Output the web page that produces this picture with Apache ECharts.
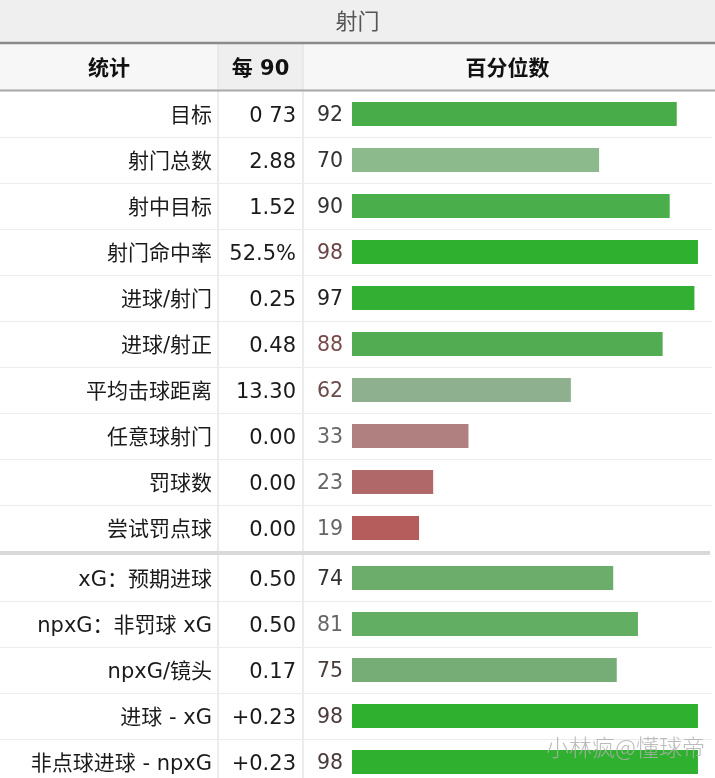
<!DOCTYPE html>
<html><head><meta charset="utf-8">
<script src="https://cdn.jsdelivr.net/npm/echarts@6/dist/echarts.min.js"></script>
<style>html,body{margin:0;padding:0;background:#fff}#c{width:715px;height:778px}</style>
</head><body><div id="c"></div>
<script>
// ---- data ----
const title = '射门';
const headers = ['统计', '每 90', '百分位数'];
const stats = ['目标', '射门总数', '射中目标', '射门命中率', '进球/射门', '进球/射正', '平均击球距离', '任意球射门', '罚球数', '尝试罚点球',
  'xG：预期进球', 'npxG：非罚球 xG', 'npxG/镜头', '进球 - xG', '非点球进球 - npxG'];
const per90 = ['0 73', '2.88', '1.52', '52.5%', '0.25', '0.48', '13.30', '0.00', '0.00', '0.00',
  '0.50', '0.50', '0.17', '+0.23', '+0.23'];
const percentiles = [92, 70, 90, 98, 97, 88, 62, 33, 23, 19, 74, 81, 75, 98, 98];
const sectionSizes = [10, 5];
const watermark = '小林疯@懂球帝';

// ---- styles ----
const barColors = ['#48ad48', '#8dba8d', '#4aae4a', '#2fb12f', '#33b033', '#52ad52', '#8fb08f', '#b08080', '#b06868', '#b55c5c',
  '#6cad6c', '#62ae62', '#76ad76', '#2fb12f', '#2fb12f'];
const pctTextColors = ['#333', '#333', '#333', '#6b4545', '#222', '#7a4a4a', '#6b4a4a', '#666', '#666', '#666',
  '#333', '#666', '#4a3a3a', '#4a3a3a', '#4a3a3a'];

const FONT = 'DejaVu Sans, "Noto Sans CJK SC", sans-serif';
const W = 715;
const colX = [0, 218, 303, 712];
const rowH = [46, 46];
const tops = [91, 555];
const barLeft = 352, barWidthPx = 353;

const chart = echarts.init(document.getElementById('c'), null, {renderer: 'canvas'});

const grids = [], xAxes = [], yAxes = [], series = [];
let start = 0;
sectionSizes.forEach((n, gi) => {
  const idx = Array.from({length: n}, (_, k) => start + k);
  grids.push({left: barLeft, top: tops[gi], width: barWidthPx, height: n * rowH[gi], outerBoundsMode: 'none', containLabel: false});
  xAxes.push({type: 'value', gridIndex: gi, min: 0, max: 100, show: false});
  const baseAxis = {
    type: 'category', gridIndex: gi, inverse: true, position: 'left',
    axisLine: {show: false}, axisTick: {show: false}, splitLine: {show: false}
  };
  const lab = {fontSize: 21, color: '#1a1a1a', fontFamily: FONT, verticalAlign: 'top', lineHeight: 6};
  yAxes.push(Object.assign({}, baseAxis, {
    data: idx.map(i => stats[i]),
    axisLabel: Object.assign({margin: 140}, lab)
  }));
  yAxes.push(Object.assign({}, baseAxis, {
    data: idx.map(i => per90[i]),
    axisLabel: Object.assign({margin: 56}, lab)
  }));
  series.push({
    type: 'bar', xAxisIndex: gi, yAxisIndex: gi * 2, barWidth: 24, silent: true,
    data: idx.map(i => ({
      value: percentiles[i],
      itemStyle: {color: barColors[i]},
      label: {color: pctTextColors[i]}
    })),
    label: {show: true, position: 'left', distance: 9, fontSize: 20.5, fontFamily: FONT, formatter: '{c}', offset: [0, 2]}
  });
  start += n;
});

// table decoration
const g = [];
g.push({type: 'rect', shape: {x: 0, y: 0, width: W, height: 43}, style: {fill: '#efefef'}, z: -10});
g.push({type: 'rect', shape: {x: 0, y: 44, width: W, height: 46}, style: {fill: '#f7f7f7'}, z: -10});
g.push({type: 'rect', shape: {x: colX[1], y: 44, width: colX[2] - colX[1], height: 46}, style: {fill: '#efefef'}, z: -9});
g.push({type: 'line', shape: {x1: 0, y1: 43, x2: W, y2: 43}, style: {stroke: '#8a8a8a', lineWidth: 2.5}, z: 5});
g.push({type: 'line', shape: {x1: 0, y1: 90.5, x2: W, y2: 90.5}, style: {stroke: '#a8a8a8', lineWidth: 2}, z: 5});
// column dividers
[colX[1], colX[2]].forEach(x => {
  g.push({type: 'line', shape: {x1: x, y1: 44, x2: x, y2: 778}, style: {stroke: '#e6e6e6', lineWidth: 1.5}, z: -5});
});
// row separators
sectionSizes.forEach((n, gi) => {
  for (let k = 1; k <= n; k++) {
    const y = Math.round(tops[gi] + k * rowH[gi]) + 0.5;
    if (gi === 0 && k === n) continue;
    g.push({type: 'line', shape: {x1: 0, y1: y, x2: colX[3], y2: y}, style: {stroke: '#ececec', lineWidth: 1}, z: -5});
  }
});
// section separator
g.push({type: 'rect', shape: {x: 0, y: tops[0] + sectionSizes[0] * rowH[0], width: 710, height: 4}, style: {fill: '#d9d9d9'}, z: -4});
// title + headers
g.push({type: 'text', x: W / 2, y: 23, style: {text: title, fill: '#555', fontSize: 22, fontFamily: FONT, align: 'center', verticalAlign: 'middle'}, z: 6});
headers.forEach((h, i) => {
  g.push({type: 'text', x: (colX[i] + colX[i + 1]) / 2, y: 70, style: {text: h, fill: '#111', fontSize: 21, fontWeight: 'bold', fontFamily: FONT, align: 'center', verticalAlign: 'middle'}, z: 6});
});
// watermark
g.push({type: 'text', x: 705, y: 747, style: {text: watermark, fill: 'rgba(175,175,175,0.85)', fontSize: 23, fontFamily: '"Noto Sans CJK SC", sans-serif', fontWeight: 300, align: 'right', verticalAlign: 'middle'}, z: 50});

chart.setOption({
  animation: false,
  backgroundColor: '#ffffff',
  grid: grids,
  xAxis: xAxes,
  yAxis: yAxes,
  series: series,
  graphic: {elements: g}
});
</script></body></html>
